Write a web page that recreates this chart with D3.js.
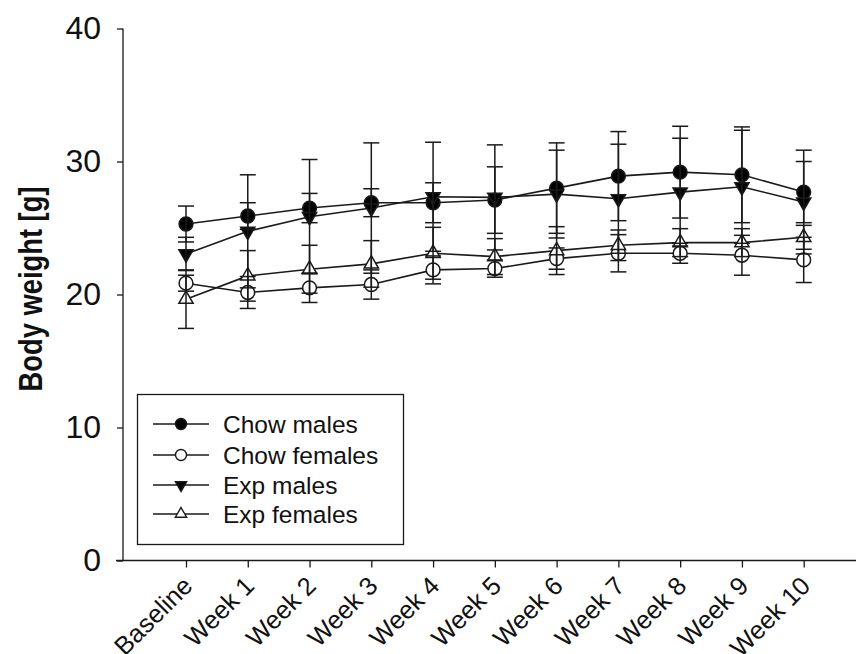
<!DOCTYPE html>
<html>
<head>
<meta charset="utf-8">
<script src="https://cdn.jsdelivr.net/npm/d3@7"></script>
<style>
  html, body { margin: 0; padding: 0; background: #fff; }
  svg { display: block; font-family: Arial, "Liberation Sans", sans-serif; }
</style>
</head>
<body>
<svg id="chart" width="856" height="654"></svg>
<script>
// ---------- data ----------
const weeks = ["Baseline", "Week 1", "Week 2", "Week 3", "Week 4", "Week 5", "Week 6", "Week 7", "Week 8", "Week 9", "Week 10"];
const yTicks = [0, 10, 20, 30, 40];

const chowMales      = [25.3, 25.9, 26.5, 26.9, 26.9, 27.1, 28.0, 28.9, 29.2, 29.0, 27.7];
const chowMalesSD    = [1.35, 1.0, 1.1, 1.05, 1.5, 2.5, 3.4, 3.35, 3.45, 3.6, 2.3];
const chowFemales    = [20.85, 20.15, 20.5, 20.75, 21.85, 21.95, 22.7, 23.1, 23.1, 22.95, 22.6];
const chowFemalesSD  = [0.6, 1.2, 1.1, 1.1, 1.05, 0.65, 0.8, 1.4, 0.75, 1.5, 1.7];
const expMales       = [23.05, 24.75, 25.85, 26.5, 27.35, 27.3, 27.55, 27.2, 27.7, 28.1, 26.95];
const expMalesSD     = [1.25, 4.25, 4.3, 4.9, 4.1, 3.95, 3.3, 4.1, 4.05, 4.25, 3.9];
const expFemales     = [19.65, 21.4, 21.9, 22.3, 23.1, 22.85, 23.3, 23.7, 23.9, 23.9, 24.3];
const expFemalesSD   = [2.2, 1.9, 1.8, 1.75, 1.95, 1.35, 1.8, 1.15, 1.05, 1.05, 0.9];

const seriesNames = ["Chow males", "Chow females", "Exp males", "Exp females"];

// ---------- build ----------
const series = [
  { name: seriesNames[0], mean: chowMales,   sd: chowMalesSD,   shape: "circle",  fill: "#000" },
  { name: seriesNames[1], mean: chowFemales, sd: chowFemalesSD, shape: "circle",  fill: "#fff" },
  { name: seriesNames[2], mean: expMales,    sd: expMalesSD,    shape: "triDown", fill: "#000" },
  { name: seriesNames[3], mean: expFemales,  sd: expFemalesSD,  shape: "triUp",   fill: "#fff" }
];

const ink = "#1a1a1a";
const svg = d3.select("#chart");

const x = d3.scalePoint().domain(weeks).range([186, 803.7]);
const y = d3.scaleLinear().domain([0, 40]).range([560.5, 28.5]);

function markerPath(shape, big) {
  if (shape === "circle") return d3.symbol(d3.symbolCircle, big ? 150 : 95)();
  return d3.symbol(d3.symbolTriangle, big ? 88 : 55)();
}
function markerTransform(shape, cx, cy) {
  return shape === "triDown" ? `translate(${cx},${cy}) rotate(180)` : `translate(${cx},${cy})`;
}

// ---------- axes ----------
const yAxis = d3.axisLeft(y).tickValues(yTicks).tickSize(6).tickSizeOuter(0).tickPadding(16);
const gy = svg.append("g").attr("transform", "translate(123,0)").call(yAxis);
gy.select(".domain").remove();
gy.selectAll("line").attr("stroke", ink).attr("stroke-width", 1.3);
gy.selectAll("text").attr("font-size", 32).attr("fill", "#111").attr("font-family", "Arial, 'Liberation Sans', sans-serif");
svg.append("line").attr("x1", 123).attr("x2", 123).attr("y1", y(40)).attr("y2", y(0))
  .attr("stroke", ink).attr("stroke-width", 1.3);

const xAxis = d3.axisBottom(x).tickSize(7).tickSizeOuter(0);
const gx = svg.append("g").attr("transform", `translate(0,${y(0)})`).call(xAxis);
gx.select(".domain").remove();
gx.selectAll("line").attr("stroke", ink).attr("stroke-width", 1.3);
gx.selectAll("text").remove();
svg.append("line").attr("x1", 116).attr("x2", 856).attr("y1", y(0)).attr("y2", y(0))
  .attr("stroke", ink).attr("stroke-width", 1.3);

svg.append("g").selectAll("text").data(weeks).join("text")
  .attr("transform", d => `translate(${x(d) + 8},${y(0) + 27}) rotate(-45)`)
  .attr("text-anchor", "end")
  .attr("font-size", 25.5)
  .attr("fill", "#111")
  .text(d => d);

svg.append("text")
  .attr("transform", `translate(42,289) rotate(-90)`)
  .attr("text-anchor", "middle")
  .attr("font-size", 34)
  .attr("font-weight", "bold")
  .attr("fill", "#111")
  .attr("textLength", 205)
  .attr("lengthAdjust", "spacingAndGlyphs")
  .text("Body weight [g]");

// ---------- series ----------
const plot = svg.append("g");
const line = d3.line().x((d, i) => x(weeks[i])).y(d => y(d));

series.forEach(s => {
  plot.append("path").datum(s.mean).attr("d", line)
    .attr("fill", "none").attr("stroke", ink).attr("stroke-width", 1.6);
});
series.forEach(s => {
  plot.append("g").selectAll("path").data(s.mean).join("path")
    .attr("d", markerPath(s.shape, true))
    .attr("transform", (d, i) => markerTransform(s.shape, x(weeks[i]), y(d)))
    .attr("fill", s.fill).attr("stroke", ink).attr("stroke-width", 1.5);
});
series.forEach(s => {
  const g = plot.append("g");
  s.mean.forEach((m, i) => {
    const cx = x(weeks[i]);
    const hi = y(m + s.sd[i]), lo = y(m - s.sd[i]);
    g.append("line").attr("x1", cx).attr("x2", cx).attr("y1", hi).attr("y2", lo)
      .attr("stroke", ink).attr("stroke-width", 1.5);
    [hi, lo].forEach(v => g.append("line").attr("x1", cx - 8).attr("x2", cx + 8)
      .attr("y1", v).attr("y2", v).attr("stroke", ink).attr("stroke-width", 1.5));
  });
});

// ---------- legend ----------
const lg = svg.append("g");
lg.append("rect").attr("x", 137.5).attr("y", 394.5).attr("width", 266).attr("height", 150)
  .attr("fill", "#fff").attr("stroke", ink).attr("stroke-width", 1.3);
const rowY = [424, 455, 485, 514];
series.forEach((s, i) => {
  const cy = rowY[i];
  lg.append("line").attr("x1", 153).attr("x2", 209).attr("y1", cy).attr("y2", cy)
    .attr("stroke", ink).attr("stroke-width", 1.5);
  lg.append("path").attr("d", markerPath(s.shape, false))
    .attr("transform", markerTransform(s.shape, 181, cy))
    .attr("fill", s.fill).attr("stroke", ink).attr("stroke-width", 1.4);
  lg.append("text").attr("x", 223).attr("y", cy + 9)
    .attr("font-size", 24.5).attr("fill", "#111").text(s.name);
});
</script>
</body>
</html>
